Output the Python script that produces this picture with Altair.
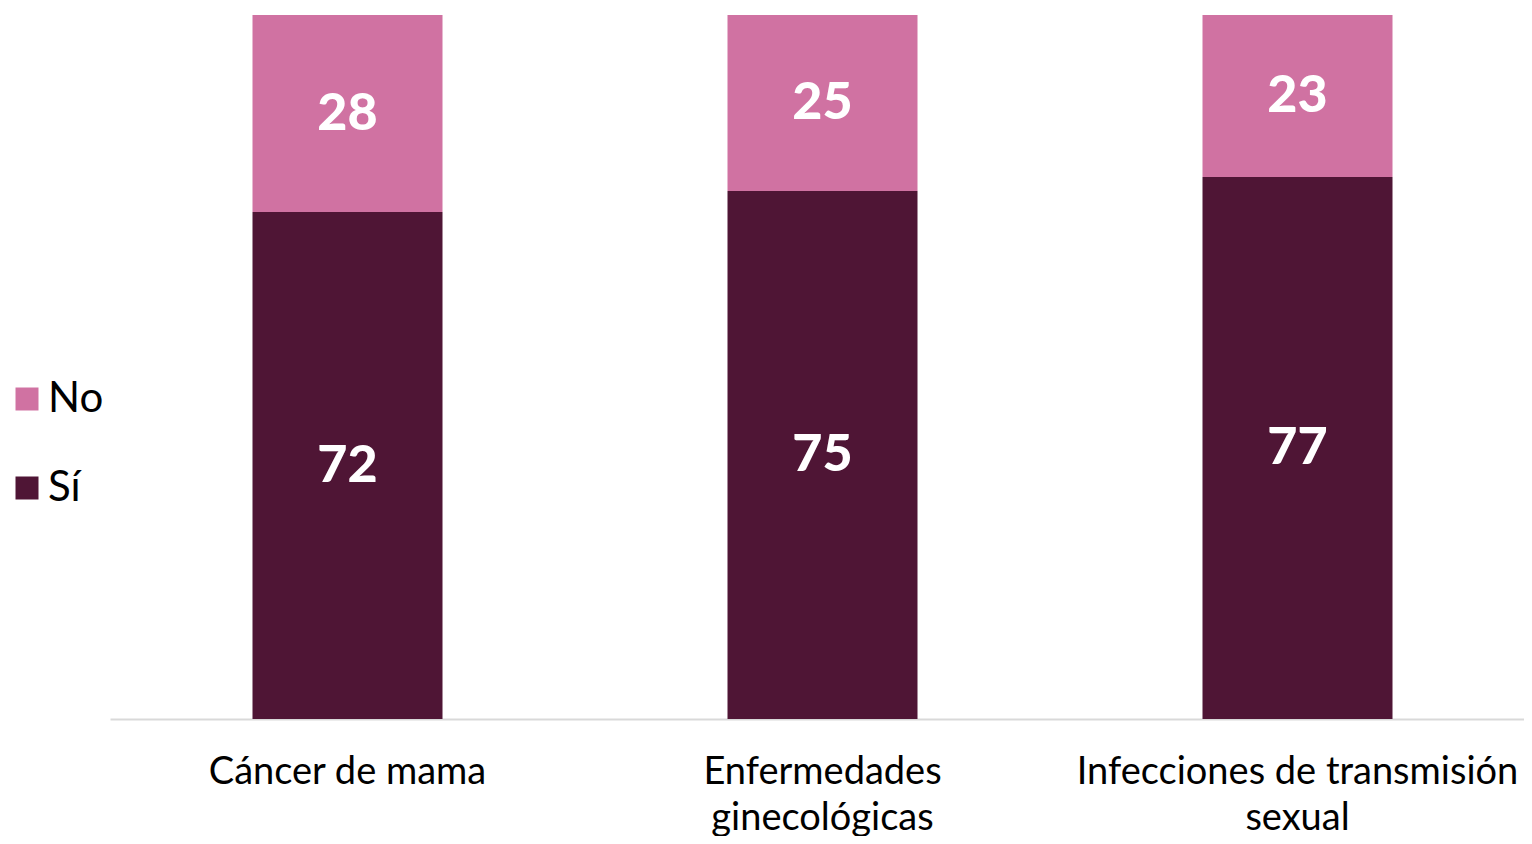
import altair as alt
import pandas as pd

categorias = ["Cáncer de mama", "Enfermedades ginecológicas", "Infecciones de transmisión sexual"]
si = [72, 75, 77]
no = [28, 25, 23]
series = ["No", "Sí"]
colores = ["#d072a2", "#4f1535"]

rows = []
for c, s, n in zip(categorias, si, no):
    rows.append({"cat": c, "resp": "Sí", "valor": s, "orden": 0})
    rows.append({"cat": c, "resp": "No", "valor": n, "orden": 1})
df = pd.DataFrame(rows)

FONT = "Lato"

label_expr = ("datum.label == 'Enfermedades ginecológicas' ? ['Enfermedades', 'ginecológicas'] : "
              "datum.label == 'Infecciones de transmisión sexual' ? ['Infecciones de transmisión', 'sexual'] : datum.label")

x = alt.X("cat:N", sort=categorias, title=None,
          scale=alt.Scale(paddingInner=0.6, paddingOuter=0.3, range=[0, 1425]),
          axis=alt.Axis(labelAngle=0, labelFontSize=38, labelFont=FONT, labelColor="#000000",
                        labelExpr=label_expr, labelLineHeight=46, labelPadding=34,
                        ticks=False, domainColor="#d9d9d9", domainWidth=2, labelLimit=600))

base = alt.Chart(df)

bars = base.mark_bar().encode(
    x=x,
    y=alt.Y("valor:Q", stack="zero", axis=None, scale=alt.Scale(domain=[0, 100], nice=False)),
    color=alt.Color("resp:N", scale=alt.Scale(domain=series, range=colores),
                    legend=alt.Legend(title=None, orient="none", legendX=-104, legendY=363,
                                      symbolType="square", symbolSize=529, symbolStrokeWidth=0,
                                      labelFontSize=42, labelFont=FONT, labelColor="#000000",
                                      rowPadding=47, padding=0, labelOffset=0)),
    order=alt.Order("orden:Q"),
)

text = base.transform_stack(
    stack="valor", groupby=["cat"], as_=["y0", "y1"], sort=[alt.SortField("orden", order="ascending")]
).transform_calculate(
    mid="(datum.y0 + datum.y1) / 2"
).mark_text(color="white", fontSize=52, font=FONT, fontWeight=900, baseline="middle").encode(
    x=alt.X("cat:N", sort=categorias),
    y=alt.Y("mid:Q"),
    text=alt.Text("valor:Q"),
)

chart = (bars + text).properties(
    width=1414, height=704,
    autosize=alt.AutoSizeParams(type="none"),
    padding={"left": 102, "top": 7, "right": 0, "bottom": 117},
).configure_view(stroke=None)

chart.save("out.html", embed_options={"renderer": "svg", "actions": False})
